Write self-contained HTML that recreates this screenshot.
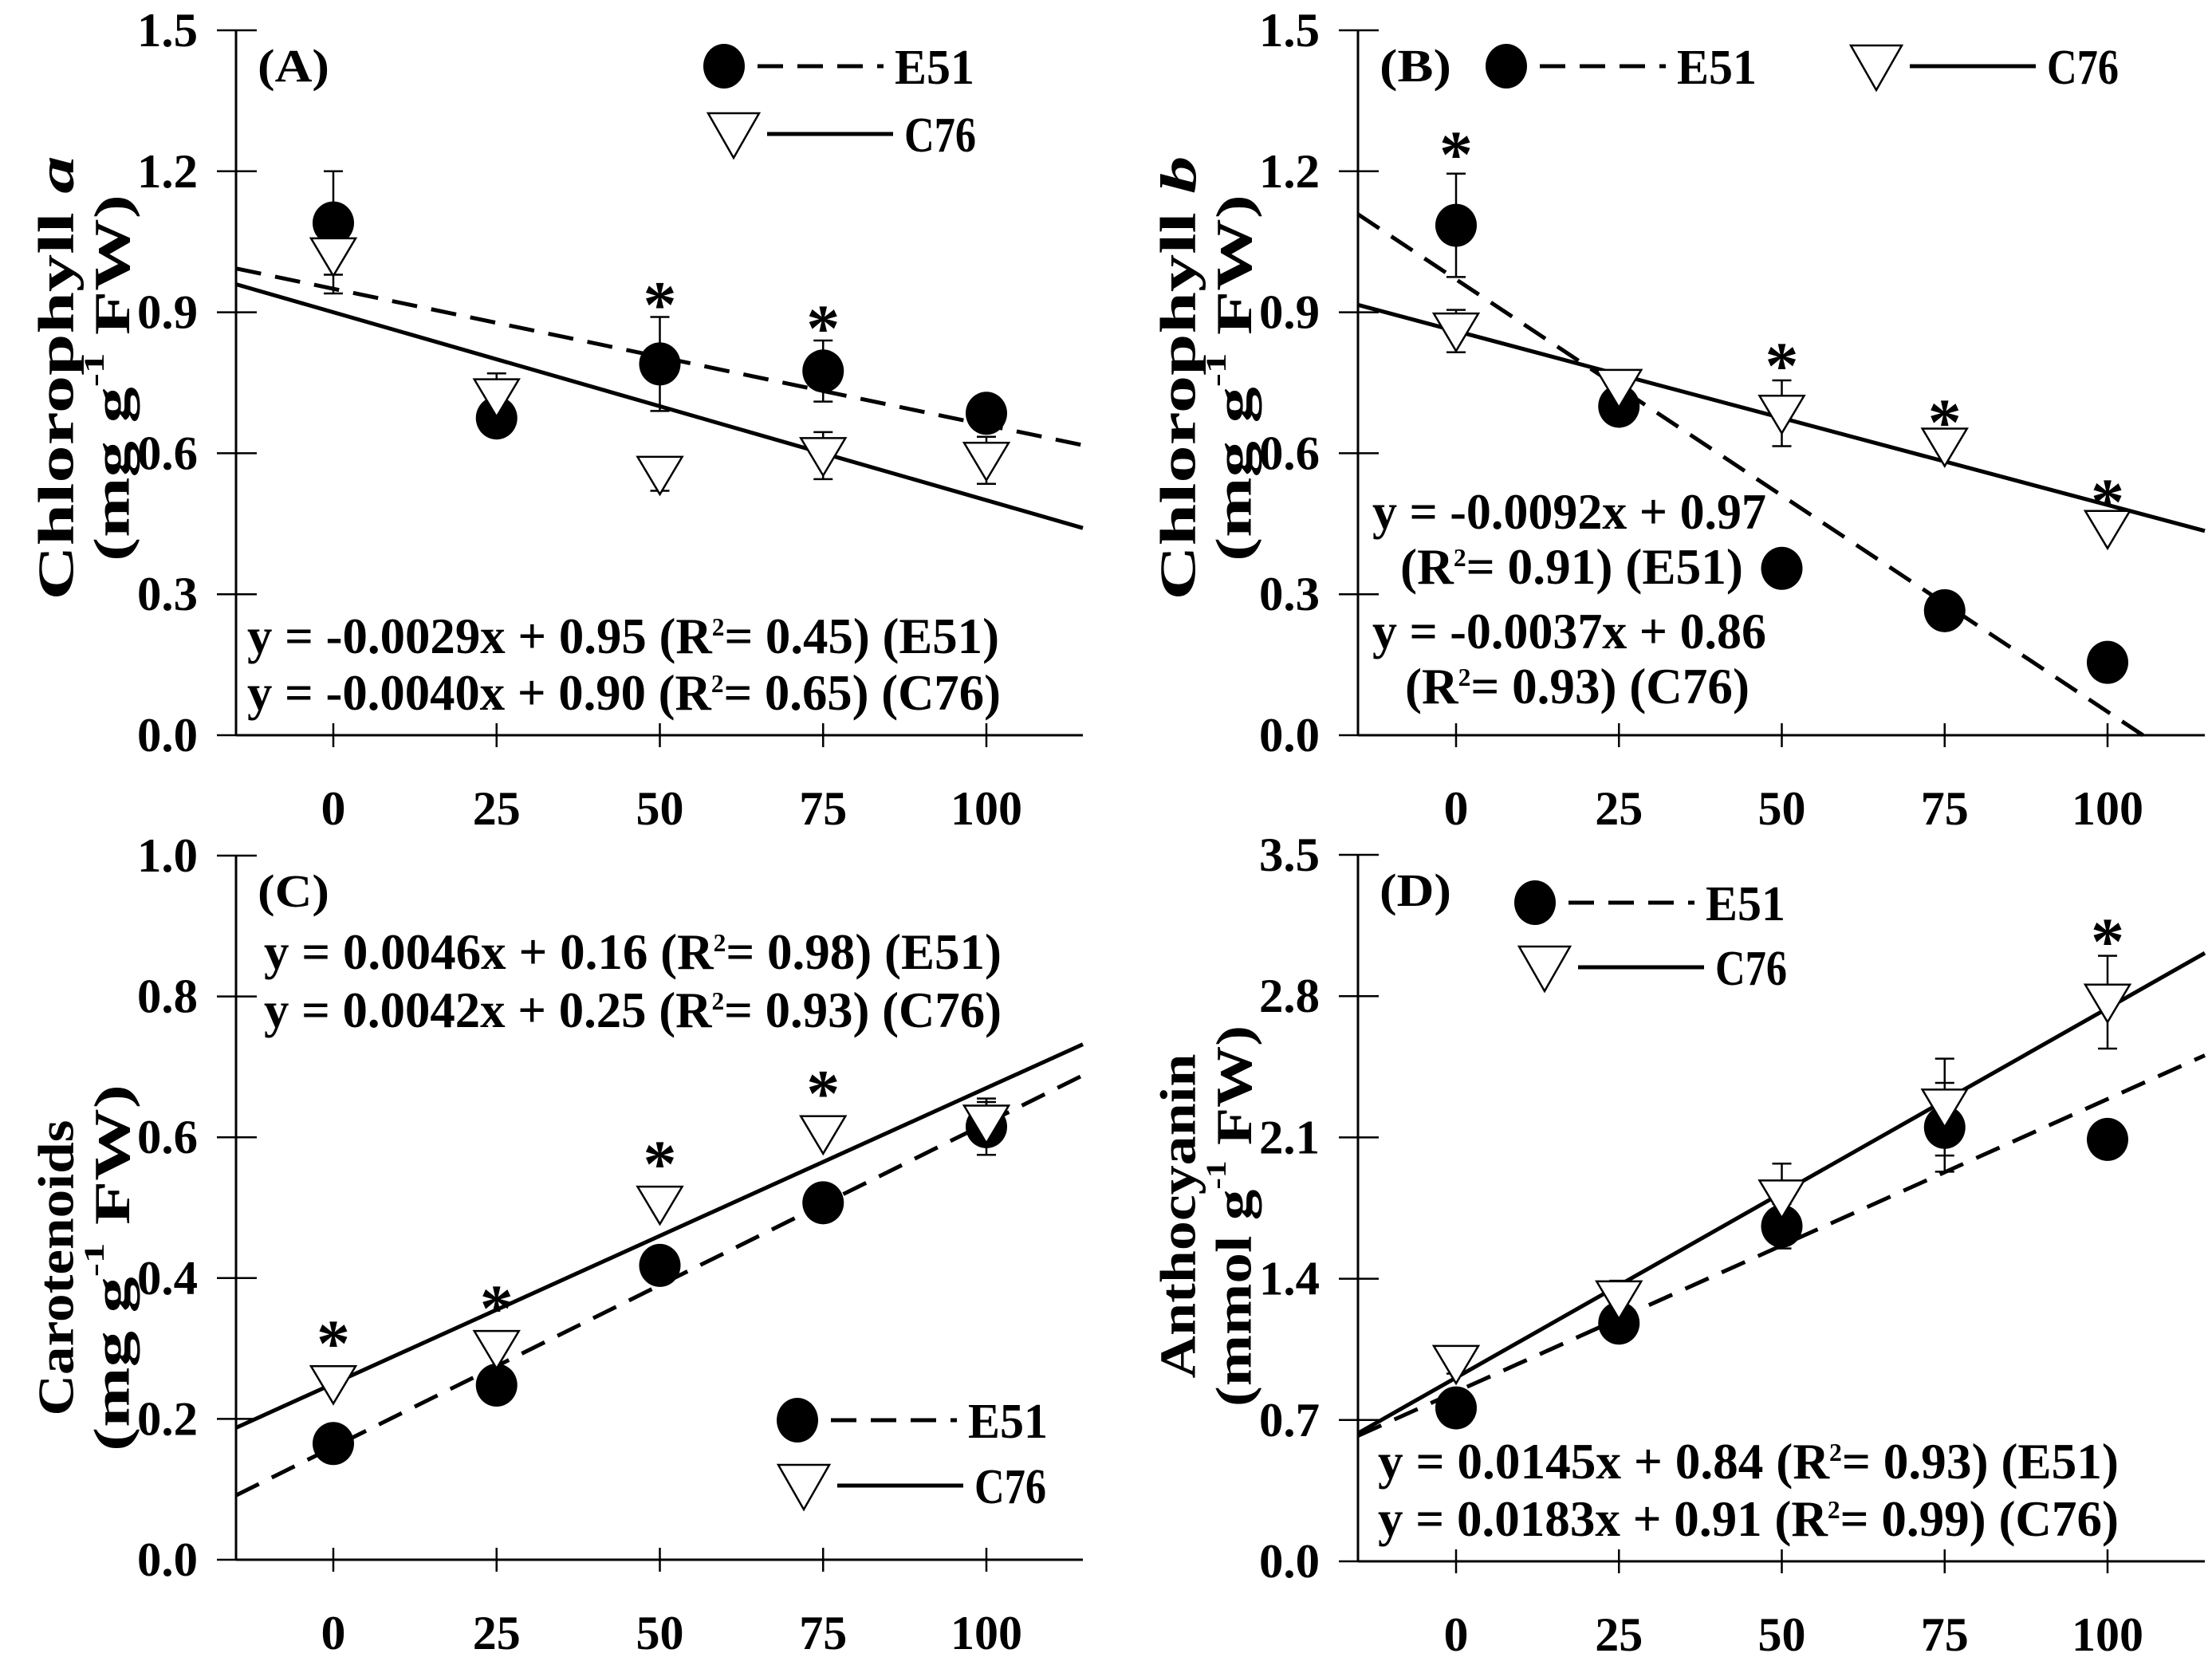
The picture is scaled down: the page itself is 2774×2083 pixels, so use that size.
<!DOCTYPE html>
<html><head><meta charset="utf-8"><style>
html,body{margin:0;padding:0;background:#fff;}
svg{display:block;}
text{font-family:"Liberation Serif",serif;font-weight:bold;}
</style></head><body>
<svg id="fig" width="2774" height="2083" viewBox="0 0 2774 2083" xmlns="http://www.w3.org/2000/svg" font-family="Liberation Serif, serif" font-weight="bold"></svg>
<script>
const xCats=[0,25,50,75,100];
// Panel A
const aE51=[1.09,0.675,0.79,0.775,0.685];
const aE51sd=[0.11,0,0.10,0.065,0];
const aC76=[1.02,0.72,0.555,0.595,0.585];
const aC76sd=[0.08,0.05,0.035,0.05,0.05];
const aFit=[[-0.0029,0.95],[-0.0040,0.90]];
const aTicks=["0.0","0.3","0.6","0.9","1.2","1.5"];
// Panel B
const bE51=[1.085,0.70,0.355,0.265,0.155];
const bE51sd=[0.11,0.03,0,0,0];
const bC76=[0.86,0.74,0.685,0.615,0.44];
const bC76sd=[0.045,0.03,0.07,0,0];
const bFit=[[-0.0092,0.97],[-0.0037,0.86]];
const bTicks=["0.0","0.3","0.6","0.9","1.2","1.5"];
// Panel C
const cE51=[0.165,0.248,0.418,0.507,0.615];
const cE51sd=[0,0,0,0,0.04];
const cC76=[0.25,0.30,0.505,0.605,0.62];
const cC76sd=[0,0,0,0,0.03];
const cFit=[[0.0046,0.16],[0.0042,0.25]];
const cTicks=["0.0","0.2","0.4","0.6","0.8","1.0"];
// Panel D
const dE51=[0.76,1.18,1.66,2.15,2.09];
const dE51sd=[0,0,0.11,0.22,0.09];
const dC76=[0.98,1.30,1.80,2.25,2.77];
const dC76sd=[0.05,0.09,0.17,0.24,0.23];
const dFit=[[0.0145,0.84],[0.0183,0.91]];
const dTicks=["0.0","0.7","1.4","2.1","2.8","3.5"];

const NS="http://www.w3.org/2000/svg";
const svg=document.getElementById('fig');
function mk(tag,attrs,parent,txt){const e=document.createElementNS(NS,tag);for(const k in attrs)e.setAttribute(k,attrs[k]);if(tag==='text'){e.setAttribute('font-family','Liberation Serif, serif');e.setAttribute('font-weight','bold');}if(txt!==undefined)e.textContent=txt;(parent||svg).appendChild(e);return e;}
function fitW(e,w){e.setAttribute('textLength',w);e.setAttribute('lengthAdjust','spacingAndGlyphs');}

function panel(cfg){
  const g=mk('g',{});
  
  
  const ax=cfg.ax, y0=cfg.y0, yT=cfg.yT, x0=cfg.x0, x100=cfg.x100, xr=cfg.xr, ymax=cfg.ymax;
  const X=v=>x0+(x100-x0)*v/100;
  const Y=v=>y0+(yT-y0)*v/ymax;
  const xmin=(ax-x0)/(x100-x0)*100, xmax=(xr-x0)/(x100-x0)*100;
  const ya=mk('line',{x1:ax,y1:yT,x2:ax,y2:y0,stroke:'#000','stroke-width':3},g);
  
  const xa=mk('line',{x1:ax,y1:y0,x2:xr,y2:y0,stroke:'#000','stroke-width':3},g);
  
  cfg.ticks.forEach((t,i)=>{
    const v=ymax*i/(cfg.ticks.length-1);
    mk('line',{x1:ax-24,y1:Y(v),x2:ax+26,y2:Y(v),stroke:'#000','stroke-width':2.5},g);
    const tl=mk('text',{x:ax-48,y:Y(v)+20,'text-anchor':'end','font-size':60},g,t);
    fitW(tl,76);
    
  });
  xCats.forEach(c=>{
    mk('line',{x1:X(c),y1:y0-15,x2:X(c),y2:y0+15,stroke:'#000','stroke-width':2.5},g);
    const tl=mk('text',{x:X(c),y:y0+112,'text-anchor':'middle','font-size':60},g,String(c));
    fitW(tl,String(c).length*30+ (c===0?1:0));
    
  });
  const t1=mk('text',{transform:`translate(${ax-226},${cfg.ty}) rotate(-90)`,'text-anchor':'middle','dominant-baseline':'central','font-size':64},g);
  
  t1.innerHTML=cfg.t1; fitW(t1,cfg.w1);
  const t2=mk('text',{transform:`translate(${ax-156},${cfg.ty}) rotate(-90)`,'text-anchor':'middle','dominant-baseline':'central','font-size':64},g);
  
  t2.innerHTML=cfg.t2; fitW(t2,cfg.w2);
  const pl=mk('text',{x:ax+27,y:yT+64,'font-size':58},g,'('+cfg.id+')');
  fitW(pl,90);
  
  cfg.fit.forEach((f,i)=>{
    let xe=xmax; let ye=f[0]*xe+f[1];
    if(ye<0){xe=-f[1]/f[0];ye=0;}
    const ln=mk('line',{x1:X(xmin),y1:Y(f[0]*xmin+f[1]),x2:X(xe),y2:Y(ye),stroke:'#000','stroke-width':5,'stroke-dasharray':i==0?'32 18':'none'},g);
    
  });
  [[cfg.e,cfg.esd],[cfg.c,cfg.csd]].forEach(([vals,sd])=>{
    vals.forEach((v,i)=>{ if(!sd[i])return;
      const x=X(xCats[i]);
      const eb=mk('path',{d:`M${x},${Y(v-sd[i])}V${Y(v+sd[i])}M${x-12},${Y(v+sd[i])}H${x+12}M${x-12},${Y(v-sd[i])}H${x+12}`,stroke:'#000','stroke-width':2.5,fill:'none'},g);
      
    });
  });
  cfg.e.forEach((v,i)=>{
    const m=mk('ellipse',{cx:X(xCats[i]),cy:Y(v),rx:26,ry:27,fill:'#000'},g);
    
  });
  cfg.c.forEach((v,i)=>{
    const x=X(xCats[i]),y=Y(v);
    const m=mk('path',{d:`M${x-28},${y-22}L${x+28},${y-22}L${x},${y+25}Z`,fill:'#fff',stroke:'#000','stroke-width':2.5},g);
    
  });
  cfg.stars.forEach(s=>{
    const st=mk('text',{x:X(s[0]),y:Y(s[1])+48,'text-anchor':'middle','font-size':84},g,'*');
    
  });
  cfg.leg.forEach((L,i)=>{
    const lg=mk('g',{},g);
    
    if(i==0) mk('ellipse',{cx:L[0],cy:L[1],rx:26,ry:28,fill:'#000'},lg);
    else mk('path',{d:`M${L[0]-32},${L[1]-26}L${L[0]+32},${L[1]-26}L${L[0]},${L[1]+30}Z`,fill:'#fff',stroke:'#000','stroke-width':2.5},lg);
    mk('line',{x1:L[0]+42,y1:L[1],x2:L[0]+200,y2:L[1],stroke:'#000','stroke-width':5,'stroke-dasharray':i==0?'32 18':'none'},lg);
    const lt=mk('text',{x:L[0]+214,y:L[1]+22,'font-size':62},lg,i==0?'E51':'C76');
    fitW(lt,i==0?100:90);
  });
  cfg.eq.forEach(q=>{
    const t=mk('text',{x:q[0],y:q[1],'font-size':64},g);
    
    t.innerHTML=q[2]; fitW(t,q[3]);
  });
}
const R2=s=>'R<tspan dy="-22" font-size="32">2</tspan><tspan dy="22">'+s+'</tspan>';
const G1='(mg g<tspan dy="-22" font-size="36">-1</tspan><tspan dy="22"> FW)</tspan>';
panel({id:'A',ax:296,y0:922,yT:38,x0:418,x100:1237,xr:1358,ymax:1.5,ticks:aTicks,
  t1:'Chlorophyll <tspan font-style="italic">a</tspan>',t2:G1,ty:474,w1:557,w2:460,
  e:aE51,esd:aE51sd,c:aC76,csd:aC76sd,fit:aFit,stars:[[50,0.95],[75,0.9]],
  leg:[[908,83],[920,168]],
  eq:[[310,819,'y = -0.0029x + 0.95 ('+R2('= 0.45) (E51)'),943],[310,890,'y = -0.0040x + 0.90 ('+R2('= 0.65) (C76)'),945]]});
panel({id:'B',ax:1703,y0:922,yT:38,x0:1826,x100:2643,xr:2765,ymax:1.5,ticks:bTicks,
  t1:'Chlorophyll <tspan font-style="italic">b</tspan>',t2:G1,ty:474,w1:557,w2:460,
  e:bE51,esd:bE51sd,c:bC76,csd:bC76sd,fit:bFit,stars:[[0,1.27],[50,0.82],[75,0.70],[100,0.53]],
  leg:[[1889,83],[2353,83]],
  eq:[[1721,663,'y = -0.0092x + 0.97',494],[1756,732,'('+R2('= 0.91) (E51)'),430],[1721,813,'y = -0.0037x + 0.86',494],[1762,882,'('+R2('= 0.93) (C76)'),432]]});
panel({id:'C',ax:296,y0:1956,yT:1073,x0:418,x100:1237,xr:1358,ymax:1.0,ticks:cTicks,
  t1:'Carotenoids',t2:G1,ty:1590,w1:371,w2:460,
  e:cE51,esd:cE51sd,c:cC76,csd:cC76sd,fit:cFit,stars:[[0,0.33],[25,0.38],[50,0.585],[75,0.685]],
  leg:[[1000,1781],[1008,1863]],
  eq:[[331,1215,'y = 0.0046x + 0.16 ('+R2('= 0.98) (E51)'),925],[331,1288,'y = 0.0042x + 0.25 ('+R2('= 0.93) (C76)'),925]]});
panel({id:'D',ax:1703,y0:1958,yT:1072,x0:1826,x100:2643,xr:2765,ymax:3.5,ticks:dTicks,
  t1:'Anthocyanin',t2:'(mmol g<tspan dy="-22" font-size="36">-1</tspan><tspan dy="22"> FW)</tspan>',ty:1525,w1:407,w2:478,
  e:dE51,esd:dE51sd,c:dC76,csd:dC76sd,fit:dFit,stars:[[100,3.15]],
  leg:[[1925,1132],[1937,1213]],
  eq:[[1728,1854,'y = 0.0145x + 0.84 ('+R2('= 0.93) (E51)'),929],[1728,1926,'y = 0.0183x + 0.91 ('+R2('= 0.99) (C76)'),929]]});
</script>
</body></html>
